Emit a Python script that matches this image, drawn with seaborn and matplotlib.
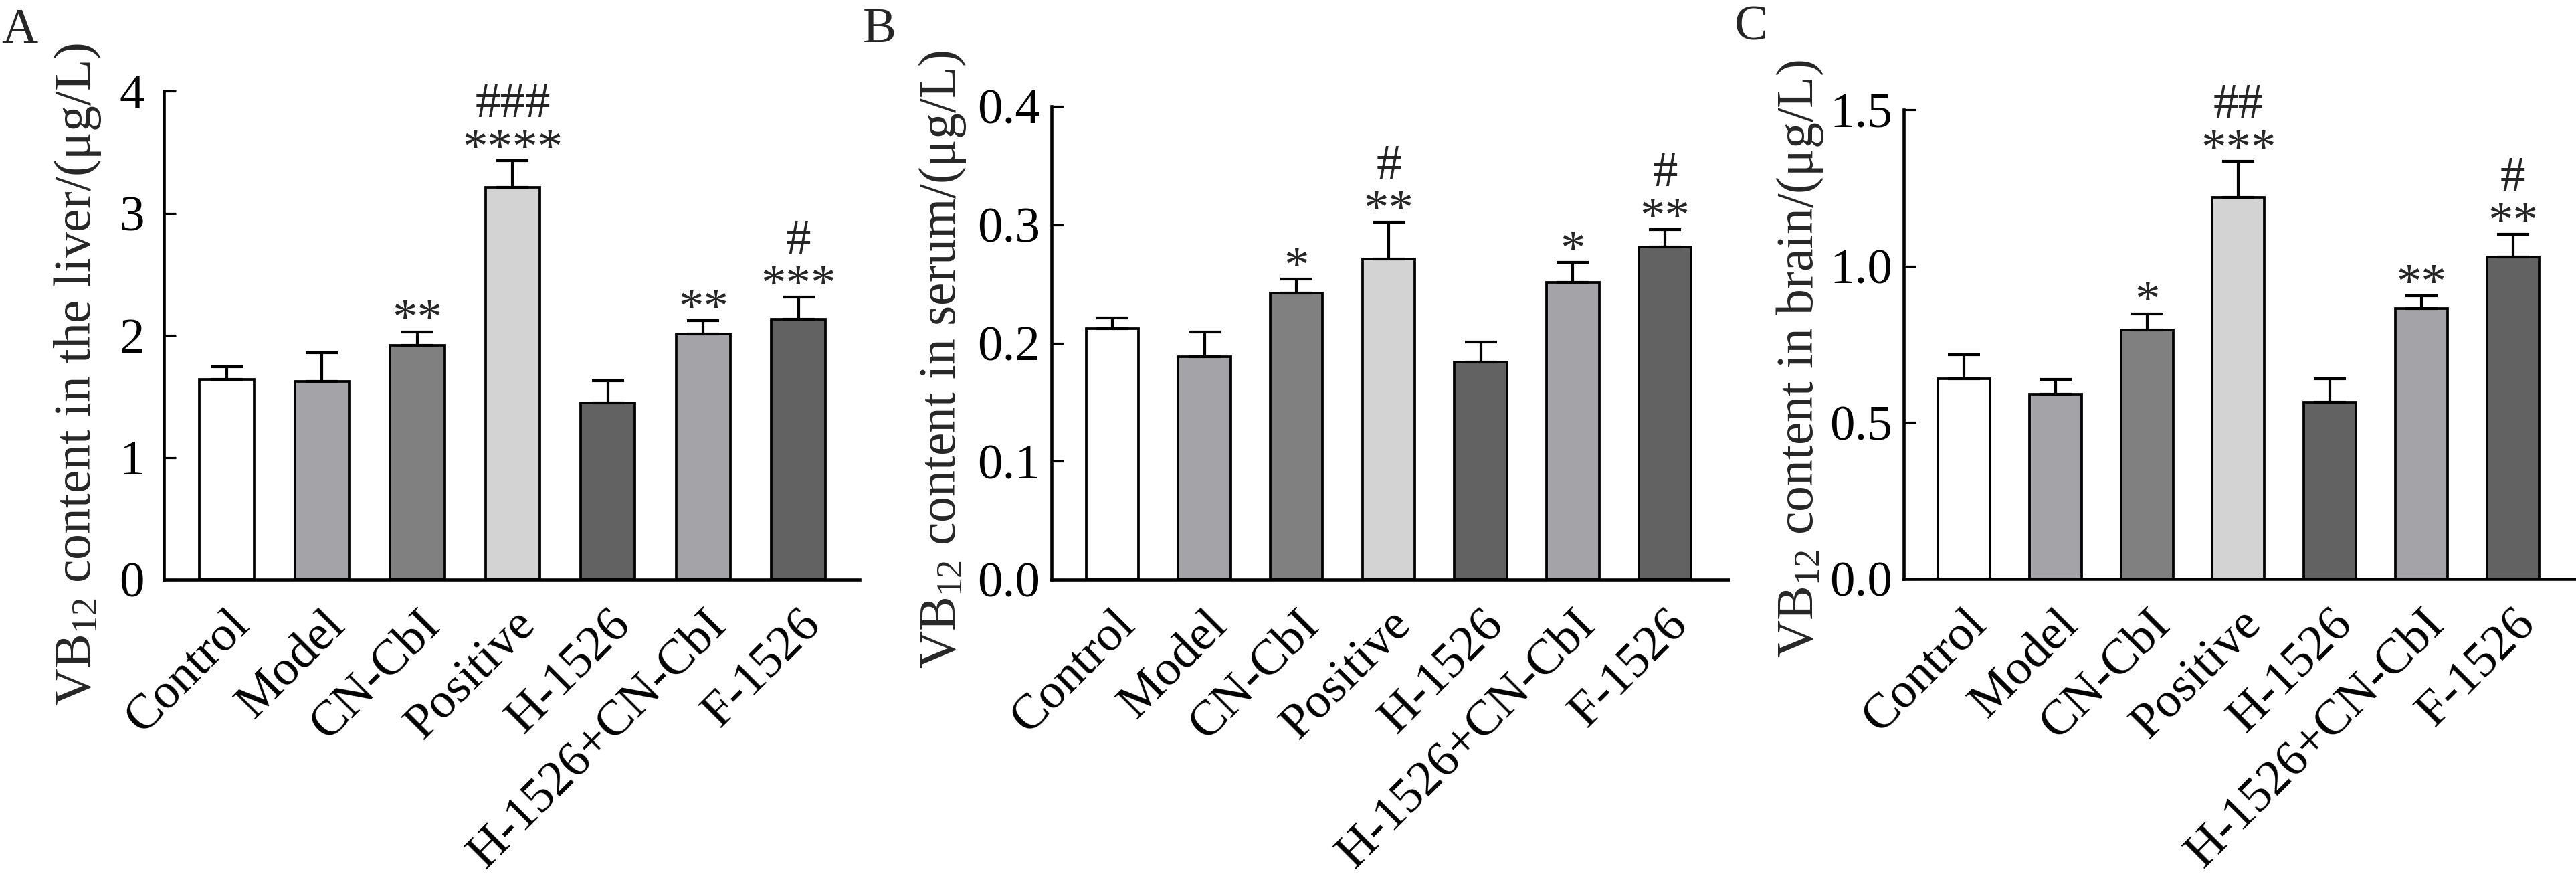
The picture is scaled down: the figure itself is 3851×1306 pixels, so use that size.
import numpy as np
import pandas as pd
import matplotlib
matplotlib.use("Agg")
import matplotlib.pyplot as plt
import seaborn as sns

groups = ["Control", "Model", "CN-CbI", "Positive", "H-1526", "H-1526+CN-CbI", "F-1526"]
colors = ["#ffffff", "#a3a3a8", "#808080", "#d3d3d3", "#626262", "#a3a3a8", "#626262"]

liver_mean = [1.64, 1.62, 1.92, 3.21, 1.445, 2.01, 2.13]
liver_err = [0.10, 0.24, 0.11, 0.22, 0.18, 0.11, 0.18]
liver_star = ["", "", "**", "****", "", "**", "***"]
liver_hash = ["", "", "", "###", "", "", "#"]

serum_mean = [0.212, 0.1885, 0.242, 0.271, 0.184, 0.251, 0.281]
serum_err = [0.009, 0.021, 0.012, 0.031, 0.017, 0.017, 0.015]
serum_star = ["", "", "*", "**", "", "*", "**"]
serum_hash = ["", "", "", "#", "", "", "#"]

brain_mean = [0.639, 0.590, 0.796, 1.219, 0.565, 0.864, 1.029]
brain_err = [0.077, 0.048, 0.052, 0.116, 0.074, 0.041, 0.072]
brain_star = ["", "", "*", "***", "", "**", "**"]
brain_hash = ["", "", "", "##", "", "", "#"]

ylabels = ["VB$_{12}$ content in the liver/(μg/L)",
           "VB$_{12}$ content in serum/(μg/L)",
           "VB$_{12}$ content in brain/(μg/L)"]
yticks = [[0, 1, 2, 3, 4], [0.0, 0.1, 0.2, 0.3, 0.4], [0.0, 0.5, 1.0, 1.5]]
yticklabels = [["0", "1", "2", "3", "4"],
               ["0.0", "0.1", "0.2", "0.3", "0.4"],
               ["0.0", "0.5", "1.0", "1.5"]]
ylims = [(0, 4), (0, 0.4), (0, 1.5)]
panel_letters = ["A", "B", "C"]

sns.set_style("ticks")
plt.rcParams["font.family"] = ["Liberation Serif", "DejaVu Serif"]
plt.rcParams["mathtext.fontset"] = "custom"
plt.rcParams["mathtext.rm"] = "Liberation Serif"
plt.rcParams["mathtext.it"] = "Liberation Serif:italic"
plt.rcParams["mathtext.default"] = "rm"

W, H = 3851, 1306
DPI = 100
FS = 54
fig = plt.figure(figsize=(W / DPI, H / DPI), dpi=DPI)
fig.patch.set_facecolor("white")

# axes boxes in pixels: left, right, top, bottom
boxes = [(245, 1285, 136, 866), (1572, 2584, 159, 866), (2846, 3851, 164, 865)]
xlims = [(-0.66, 6.64), (-0.66, 6.69), (-0.66, 6.69)]
ypads = [21, 12, 12]
ylab_pos = [(135, 64), (1428, 75), (2710, 89)]
letter_pos = [(2, 64), (1290, 63), (2593, 60)]

data = [(liver_mean, liver_err, liver_star, liver_hash),
        (serum_mean, serum_err, serum_star, serum_hash),
        (brain_mean, brain_err, brain_star, brain_hash)]

for k in range(3):
    l, r, t, b = boxes[k]
    ax = fig.add_axes([l / W, (H - b) / H, (r - l) / W, (b - t) / H])
    mean, err, star, hsh = data[k]
    df = pd.DataFrame({"group": groups, "value": mean})
    sns.barplot(data=df, x="group", y="value", hue="group", palette=colors,
                legend=False, errorbar=None, width=0.57, edgecolor="black",
                linewidth=2.7, ax=ax, saturation=1)
    x = np.arange(len(groups))
    ax.errorbar(x, mean, yerr=[np.zeros(len(err)), err], fmt="none",
                ecolor="black", elinewidth=3.0, capsize=17, capthick=3.0,
                zorder=3)
    for i in range(len(groups)):
        top = mean[i] + err[i]
        if star[i]:
            ax.annotate(star[i], xy=(i, top), xytext=(0, -2),
                        textcoords="offset points", ha="center", va="baseline",
                        fontsize=FS)
        if hsh[i]:
            ax.annotate(hsh[i], xy=(i, top), xytext=(0, 47),
                        textcoords="offset points", ha="center", va="baseline",
                        fontsize=FS)
    ax.set_xlim(*xlims[k])
    ax.set_ylim(*ylims[k])
    ax.set_yticks(yticks[k])
    ax.set_yticklabels(yticklabels[k], fontsize=FS)
    ax.set_xticks(x)
    ax.set_xticklabels(groups, fontsize=FS, rotation=45, ha="right",
                       va="top", rotation_mode="anchor")
    ax.set_xlabel("")
    ax.set_ylabel("")
    for s in ["top", "right"]:
        ax.spines[s].set_visible(False)
    for s in ["left", "bottom"]:
        ax.spines[s].set_linewidth(3.3)
        ax.spines[s].set_color("black")
    ax.tick_params(axis="y", direction="in", length=13, width=2.3,
                   pad=ypads[k], colors="black")
    ax.tick_params(axis="x", direction="in", length=13, width=2.3,
                   pad=24, colors="black")
    ax.set_facecolor("white")
    ax.patch.set_alpha(0)
    bx, by = ylab_pos[k]
    fig.text(bx / W, 1 - by / H, ylabels[k], rotation=90,
             rotation_mode="anchor", ha="right", va="baseline", fontsize=56)
    lx, ly = letter_pos[k]
    fig.text(lx / W, 1 - ly / H, panel_letters[k], ha="left", va="baseline",
             fontsize=FS)

fig.savefig("out.png", dpi=DPI, facecolor="white")
